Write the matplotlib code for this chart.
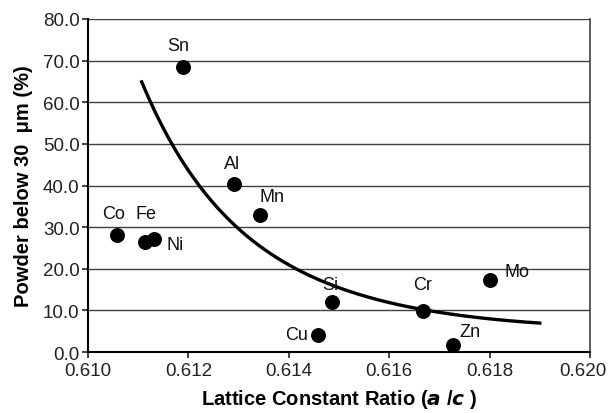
import matplotlib
matplotlib.use("Agg")
import matplotlib.pyplot as plt
import matplotlib.transforms as mtransforms
import numpy as np
from matplotlib.ticker import FormatStrFormatter

plt.rcParams['font.family'] = ['Liberation Sans', 'DejaVu Sans']

# measured elements
elements = ["Sn", "Al", "Mn", "Co", "Fe", "Ni", "Si", "Cu", "Cr", "Zn", "Mo"]
ratio = [0.61189, 0.61291, 0.61343, 0.61058, 0.61114, 0.61132,
         0.61487, 0.61458, 0.61668, 0.61727, 0.61801]
powder = [68.5, 40.4, 32.9, 28.1, 26.4, 27.1, 11.9, 4.1, 9.9, 1.8, 17.3]

# label offsets in pixels (dx, dy) from each point
label_dx = [-5, -2, 12, -4, 1, 21, -2, -21, -1, 17, 27]
label_dy = [21, 20, 19, 22, 29, -5, 18, 0, 26, 13, 9]

# trend curve
curve_x = [0.61107, 0.61133, 0.61163, 0.61210, 0.61260, 0.61323, 0.61409,
           0.61489, 0.61560, 0.61615, 0.61668, 0.61767, 0.61840, 0.61900]
curve_y = [65.8, 58.4, 50.0, 40.8, 34.4, 27.9, 20.1,
           16.0, 13.3, 11.5, 10.1, 8.3, 7.5, 7.0]

# smooth trendline through the read points (log-space cubic)
coef = np.polyfit(np.array(curve_x) - 0.615, np.log(curve_y), 3)
xs = np.linspace(curve_x[0], curve_x[-1], 200)
ys = np.exp(np.polyval(coef, xs - 0.615))

fig = plt.figure(figsize=(6.09, 4.14), dpi=100)
ax = fig.add_axes([0.1445, 0.1473, 0.8243, 0.8044])

for yv in range(10, 81, 10):
    ax.axhline(yv, color="#404040", lw=1.0, zorder=1)

ax.plot(xs, ys, color="black", lw=2.4, zorder=2)
ax.scatter(ratio, powder, s=95, color="black", zorder=3)

for name, x, y, dx, dy in zip(elements, ratio, powder, label_dx, label_dy):
    ax.annotate(name, (x, y), xytext=(dx, dy), textcoords="offset pixels",
                ha="center", va="center", fontsize=13, color="#111111")

ax.set_xlim(0.610, 0.620)
ax.set_ylim(0, 80)
ax.set_xticks([0.610, 0.612, 0.614, 0.616, 0.618, 0.620])
ax.set_yticks(range(0, 81, 10))
ax.xaxis.set_major_formatter(FormatStrFormatter("%.3f"))
ax.yaxis.set_major_formatter(FormatStrFormatter("%.1f"))
ax.tick_params(labelsize=13.5, colors="#222222", length=4, width=1.2)
ax.tick_params(axis="x", pad=3)
ax.tick_params(axis="y", pad=2)

# keep the last x tick label inside the figure
fig.canvas.draw()
last = ax.get_xticklabels()[-1]
last.set_transform(last.get_transform() +
                   mtransforms.ScaledTranslation(-0.07, 0, fig.dpi_scale_trans))

for side in ["left", "bottom"]:
    ax.spines[side].set_linewidth(1.5)
    ax.spines[side].set_color("black")
ax.spines["right"].set_color("#404040")
ax.spines["right"].set_linewidth(1.2)
ax.spines["top"].set_visible(False)

ax.set_xlabel(r"Lattice Constant Ratio ($\mathbfit{a}$ /$\mathbfit{c}$ )",
              fontsize=14.5, fontweight="bold")
ax.set_ylabel("Powder below 30  \u03bcm (%)", fontsize=14.5, fontweight="bold")
ax.xaxis.set_label_coords(0.5, -0.105)
ax.yaxis.set_label_coords(-0.11, 0.5)

fig.savefig("out.png", dpi=100)
